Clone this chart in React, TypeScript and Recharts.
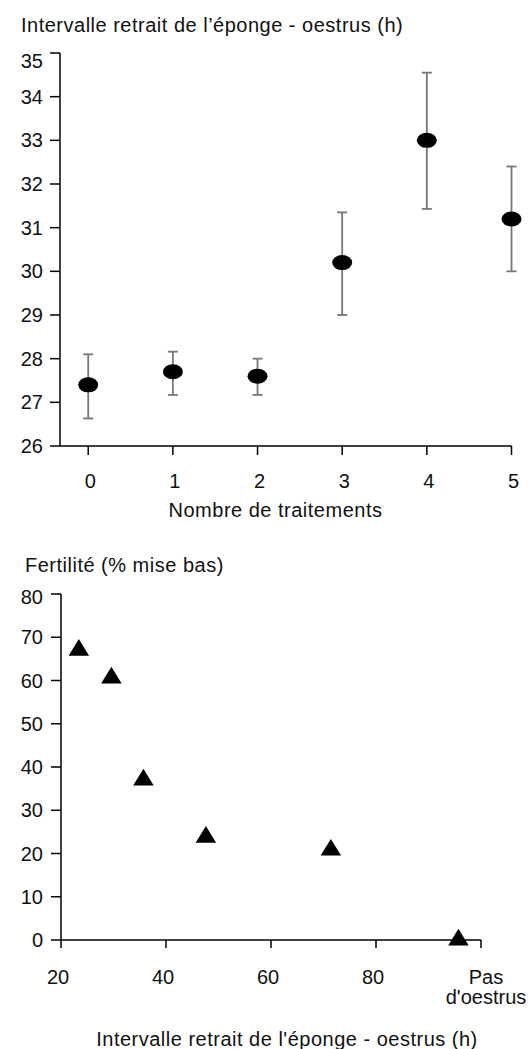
import React from "react"
import { ScatterChart, Scatter, XAxis, YAxis, ErrorBar } from "recharts"

// top panel: interval sponge removal -> oestrus vs number of treatments
const treatments = [0, 1, 2, 3, 4, 5]
const meanInterval = [27.4, 27.7, 27.6, 30.2, 33.0, 31.2]
const lowInterval = [26.63, 27.17, 27.17, 29.0, 31.43, 30.0]
const highInterval = [28.1, 28.16, 28.0, 31.35, 34.55, 32.4]
const intervalTicks = [26, 27, 28, 29, 30, 31, 32, 33, 34, 35]

// bottom panel: fertility vs interval
const intervalHours = [23.4, 29.6, 35.7, 47.6, 71.4, 95.7]
const fertility = [67, 60.6, 37, 23.8, 20.8, 0]
const fertilityTicks = [0, 10, 20, 30, 40, 50, 60, 70, 80]
const hourTicks = [20, 40, 60, 80, 100]

const FONT = "'Liberation Sans', Arial, Helvetica, sans-serif"
const TEXT = "#111"

const topData = treatments.map((t, i) => ({
  x: t,
  y: meanInterval[i],
  err: [meanInterval[i] - lowInterval[i], highInterval[i] - meanInterval[i]],
}))

const bottomData = intervalHours.map((h, i) => ({ x: h, y: fertility[i] }))

const Ellipse = (props: any) => (
  <ellipse cx={props.cx} cy={props.cy} rx={10} ry={7.5} fill="#000" />
)

const Triangle = (props: any) => {
  const { cx, cy } = props
  const h = 16.7
  const w = 20.5
  return (
    <polygon
      points={`${cx},${cy - (2 * h) / 3} ${cx - w / 2},${cy + h / 3} ${cx + w / 2},${cy + h / 3}`}
      fill="#000"
    />
  )
}

const makeYTick = (top: number, shift: number) => (props: any) => {
  const { x, y, payload } = props
  return (
    <text
      x={x}
      y={y + (payload.value === top ? shift : 0)}
      dy="0.355em"
      textAnchor="end"
      fontSize={20}
      fontFamily={FONT}
      fill={TEXT}
    >
      {payload.value}
    </text>
  )
}

const TopXTick = (props: any) => {
  const { x, y, payload } = props
  return (
    <text x={x + 2} y={y} dy="0.355em" textAnchor="middle" fontSize={20} fontFamily={FONT} fill={TEXT}>
      {payload.value}
    </text>
  )
}

const BottomXTick = (props: any) => {
  const { x, y, payload } = props
  if (payload.value === 100) {
    return (
      <text x={x + 5} y={y} textAnchor="middle" fontSize={20} fontFamily={FONT} fill={TEXT}>
        <tspan x={x + 5} dy="0.355em">Pas</tspan>
        <tspan x={x + 5} dy={20}>d'oestrus</tspan>
      </text>
    )
  }
  return (
    <text x={x - 3} y={y} dy="0.355em" textAnchor="middle" fontSize={20} fontFamily={FONT} fill={TEXT}>
      {payload.value}
    </text>
  )
}

const title = (text: string, x: number, y: number, anchor: "start" | "middle") => () => (
  <text x={x} y={y} textAnchor={anchor} fontSize={20} letterSpacing={0.5} fontFamily={FONT} fill={TEXT}>
    {text}
  </text>
)

const axisStyle = { stroke: "#000", strokeWidth: 1.5 }

export default function App() {
  return (
    <div style={{ position: "absolute", left: 0, top: 0, width: 530, height: 1049, background: "#fff" }}>
      <div style={{ position: "absolute", left: 0, top: 0 }}>
        <ScatterChart width={530} height={530} margin={{ top: 53, right: 18.5, bottom: 0, left: 0 }}>
          <XAxis
            type="number"
            dataKey="x"
            domain={[-1 / 3, 5]}
            ticks={treatments}
            height={84}
            tickSize={9}
            tickMargin={26}
            axisLine={axisStyle}
            tickLine={axisStyle}
            tick={TopXTick}
            label={title("Nombre de traitements", 275.5, 517, "middle")}
          />
          <YAxis
            type="number"
            dataKey="y"
            domain={[26, 35]}
            ticks={intervalTicks}
            width={60}
            tickSize={10}
            tickMargin={7}
            axisLine={axisStyle}
            tickLine={axisStyle}
            tick={makeYTick(35, 8)}
            label={title("Intervalle retrait de l\u2019éponge - oestrus (h)", 21, 32, "start")}
          />
          <Scatter data={topData} shape={Ellipse} isAnimationActive={false}>
            <ErrorBar dataKey="err" direction="y" width={5} stroke="#777" strokeWidth={1.8} isAnimationActive={false} />
          </Scatter>
        </ScatterChart>
      </div>
      <div style={{ position: "absolute", left: 0, top: 530 }}>
        <ScatterChart width={530} height={519} margin={{ top: 64, right: 49, bottom: 0, left: 0 }}>
          <XAxis
            type="number"
            dataKey="x"
            domain={[20, 100]}
            ticks={hourTicks}
            height={109}
            tickSize={8}
            tickMargin={29}
            axisLine={axisStyle}
            tickLine={axisStyle}
            tick={BottomXTick}
            label={title("Intervalle retrait de l'éponge - oestrus (h)", 287, 516, "middle")}
          />
          <YAxis
            type="number"
            dataKey="y"
            domain={[0, 80]}
            ticks={fertilityTicks}
            width={61}
            tickSize={10}
            tickMargin={8}
            axisLine={axisStyle}
            tickLine={axisStyle}
            tick={makeYTick(80, 3)}
            label={title("Fertilité (% mise bas)", 25, 42, "start")}
          />
          <Scatter data={bottomData} shape={Triangle} isAnimationActive={false} />
        </ScatterChart>
      </div>
    </div>
  )
}
